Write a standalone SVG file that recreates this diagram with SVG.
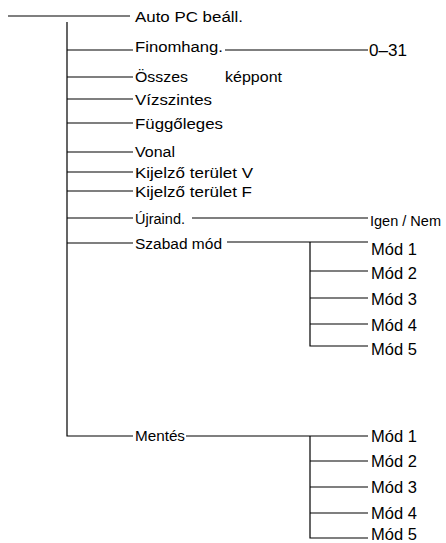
<svg xmlns="http://www.w3.org/2000/svg" width="446" height="543" viewBox="0 0 446 543">
<style>
.l{stroke:#000;stroke-width:1.2;fill:none}
text{font-family:"Liberation Sans",Arial,sans-serif;fill:#000}
.m{font-size:15.5px}
.s{font-size:14px}
.r{font-size:16.5px}
</style>
<g id="connectors">
<path class="l" d="M8,16H130"/>
<path class="l" d="M67,22V436H133"/>
<path class="l" d="M67,50H133M67,77H133M67,99H133M67,123H133M67,152H133M67,172H133M67,191H133M67,218H133M67,243H133"/>
<path class="l" d="M225,50H368"/>
<path class="l" d="M192,218H368"/>
<path class="l" d="M227,242H368"/>
<path class="l" d="M310,242V346H368M310,271H368M310,298H368M310,324H368"/>
<path class="l" d="M186,436H368"/>
<path class="l" d="M310,436V538H368M310,461H368M310,487H368M310,513H368"/>
</g>
<g id="auto"><text class="m" x="135" y="21.5" textLength="108" lengthAdjust="spacingAndGlyphs">Auto PC beáll.</text></g>
<g id="finomhang"><text class="m" x="135" y="52" textLength="88" lengthAdjust="spacingAndGlyphs">Finomhang.</text></g>
<g id="v031"><text class="r" x="369" y="56" textLength="38" lengthAdjust="spacingAndGlyphs">0–31</text></g>
<g id="osszes"><text class="m" x="135" y="82" textLength="53" lengthAdjust="spacingAndGlyphs">Összes</text><text class="m" x="225" y="82" textLength="57" lengthAdjust="spacingAndGlyphs">képpont</text></g>
<g id="vizszintes"><text class="m" x="135" y="105" textLength="77" lengthAdjust="spacingAndGlyphs">Vízszintes</text></g>
<g id="fuggoleges"><text class="m" x="135" y="129" textLength="88" lengthAdjust="spacingAndGlyphs">Függőleges</text></g>
<g id="vonal"><text class="s" x="135" y="157" textLength="40" lengthAdjust="spacingAndGlyphs">Vonal</text></g>
<g id="kijelzov"><text class="m" x="135" y="177.5" textLength="118" lengthAdjust="spacingAndGlyphs">Kijelző terület V</text></g>
<g id="kijelzof"><text class="m" x="135" y="197" textLength="117" lengthAdjust="spacingAndGlyphs">Kijelző terület F</text></g>
<g id="ujraind"><text class="m" x="135" y="224" textLength="50" lengthAdjust="spacingAndGlyphs">Újraind.</text></g>
<g id="igennem"><text class="m" x="370" y="226" textLength="71" lengthAdjust="spacingAndGlyphs">Igen / Nem</text></g>
<g id="szabad"><text class="s" x="135" y="249" textLength="87" lengthAdjust="spacingAndGlyphs">Szabad mód</text></g>
<g id="sz1"><text class="r" x="371" y="255">Mód 1</text></g>
<g id="sz2"><text class="r" x="371" y="279">Mód 2</text></g>
<g id="sz3"><text class="r" x="371" y="305">Mód 3</text></g>
<g id="sz4"><text class="r" x="371" y="331">Mód 4</text></g>
<g id="sz5"><text class="r" x="371" y="355">Mód 5</text></g>
<g id="mentes"><text class="s" x="135" y="441" textLength="50" lengthAdjust="spacingAndGlyphs">Mentés</text></g>
<g id="me1"><text class="r" x="371" y="442">Mód 1</text></g>
<g id="me2"><text class="r" x="371" y="467">Mód 2</text></g>
<g id="me3"><text class="r" x="371" y="493">Mód 3</text></g>
<g id="me4"><text class="r" x="371" y="519">Mód 4</text></g>
<g id="me5"><text class="r" x="371" y="540">Mód 5</text></g>
</svg>
